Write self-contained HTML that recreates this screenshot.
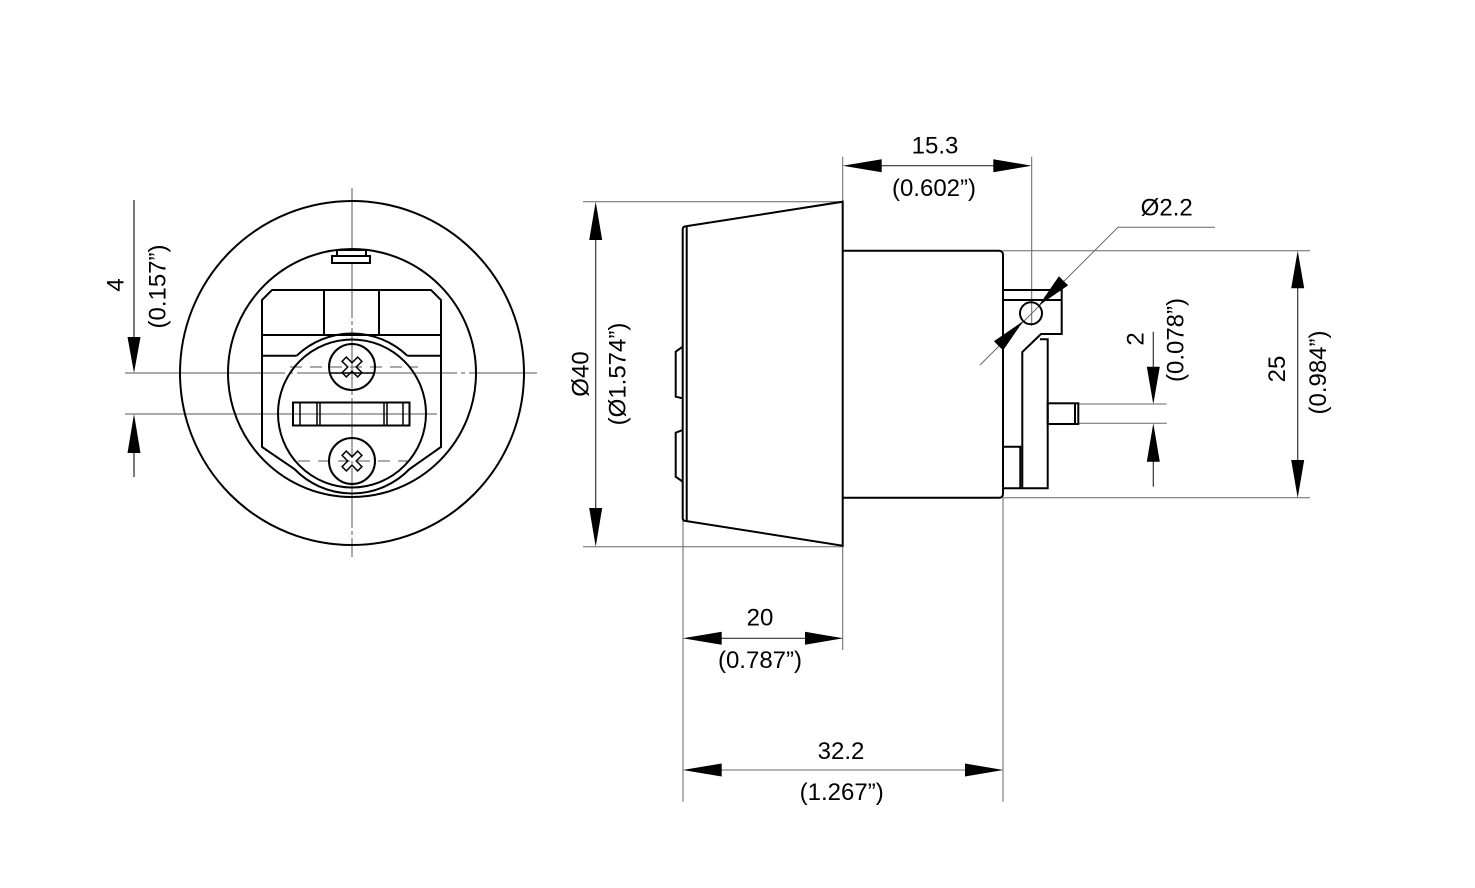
<!DOCTYPE html>
<html><head><meta charset="utf-8"><style>
html,body{margin:0;padding:0;background:#fff;}
svg{display:block;}
text{font-family:"Liberation Sans",Arial,sans-serif;font-size:24px;fill:#000;}
</style></head><body>
<svg width="1475" height="888" viewBox="0 0 1475 888" xmlns="http://www.w3.org/2000/svg">
<rect width="1475" height="888" fill="#fff"/>

<!-- ============ LEFT (FRONT) VIEW ============ -->
<!-- center lines -->
<g stroke="#555" stroke-width="1" fill="none">
  <line x1="352" y1="188" x2="352" y2="557" stroke-dasharray="60 3 4 3"/>
  <line x1="125" y1="373" x2="537" y2="373" stroke-dasharray="160 4 4 4"/>
  <line x1="125" y1="414" x2="437" y2="414"/>
  <line x1="290" y1="367" x2="418" y2="367" stroke-dasharray="12 8"/>
  <line x1="298" y1="461" x2="408" y2="461" stroke-dasharray="12 8"/>
</g>
<g stroke="#000" stroke-width="2" fill="none">
  <circle cx="352" cy="373" r="172"/>
  <circle cx="352" cy="373" r="124"/>
  <!-- tab -->
  <rect x="337" y="250" width="29" height="6" fill="#fff"/>
  <rect x="332" y="256" width="38" height="7" fill="#fff"/>
  <!-- body outline -->
  <path d="M262 300 L272 290 L431 290 L441 300 L441 447 L409.6 469 A80 80 0 0 1 294.4 469 L262 447 Z"/>
  <line x1="262" y1="335" x2="441" y2="335"/>
  <line x1="324" y1="290" x2="324" y2="335"/>
  <line x1="379" y1="290" x2="379" y2="335"/>
  <line x1="262" y1="355.7" x2="296.7" y2="355.7"/>
  <line x1="407.3" y1="355.7" x2="441" y2="355.7"/>
  <path d="M296.7 355.7 A80 80 0 0 1 407.3 355.7"/>
  <!-- inner plug circle -->
  <circle cx="352" cy="413.5" r="74"/>
  <!-- screws -->
  <circle cx="352" cy="367" r="23"/>
  <circle cx="352" cy="461" r="23"/>
  <!-- slot -->
  <rect x="293" y="402.5" width="116.5" height="23"/>
</g>
<g stroke="#000" stroke-width="1.5" fill="none">
  <line x1="300" y1="402.5" x2="300" y2="425.5"/>
  <line x1="317" y1="402.5" x2="317" y2="425.5"/>
  <line x1="320" y1="402.5" x2="320" y2="425.5"/>
  <line x1="384" y1="402.5" x2="384" y2="425.5"/>
  <line x1="387" y1="402.5" x2="387" y2="425.5"/>
  <line x1="403" y1="402.5" x2="403" y2="425.5"/>
  <!-- cross recesses -->
  <path transform="translate(352,367) rotate(45)" d="M-3 -11 L3 -11 L3 -3 L11 -3 L11 3 L3 3 L3 11 L-3 11 L-3 3 L-11 3 L-11 -3 L-3 -3 Z"/>
  <path transform="translate(352,461) rotate(45)" d="M-3 -11 L3 -11 L3 -3 L11 -3 L11 3 L3 3 L3 11 L-3 11 L-3 3 L-11 3 L-11 -3 L-3 -3 Z"/>
</g>
<line x1="329" y1="373" x2="375" y2="373" stroke="#000" stroke-width="1.5"/>

<!-- dim 4 -->
<g stroke="#222" stroke-width="1.2">
  <line x1="134" y1="200" x2="134" y2="340"/>
  <line x1="134" y1="450" x2="134" y2="477"/>
</g>
<polygon points="134,373 127.5,337 140.5,337" fill="#000"/>
<polygon points="134,414 127.5,453 140.5,453" fill="#000"/>
<text transform="translate(123.3,285) rotate(-90)" text-anchor="middle">4</text>
<text transform="translate(165.5,286.5) rotate(-90)" text-anchor="middle">(0.157”)</text>

<!-- ============ SIDE VIEW ============ -->
<!-- extension lines -->
<g stroke="#666" stroke-width="1" fill="none">
  <line x1="583" y1="201.7" x2="842.7" y2="201.7"/>
  <line x1="583" y1="546.7" x2="842.7" y2="546.7"/>
  <line x1="842.7" y1="156.7" x2="842.7" y2="201.7"/>
  <line x1="842.7" y1="546" x2="842.7" y2="650"/>
  <line x1="1031.7" y1="156.7" x2="1031.7" y2="326"/>
  <line x1="683" y1="521" x2="683" y2="801.7"/>
  <line x1="1003" y1="498" x2="1003" y2="801.7"/>
  <line x1="1003" y1="250.7" x2="1310" y2="250.7"/>
  <line x1="1003" y1="497.7" x2="1310" y2="497.7"/>
  <line x1="1078.3" y1="404" x2="1166.7" y2="404"/>
  <line x1="1078.3" y1="423.3" x2="1166.7" y2="423.3"/>
  <!-- leader -->
  <polyline points="980,365 1118,227.3 1215,227.3"/>
</g>

<g stroke="#000" stroke-width="2" fill="none">
  <!-- cone -->
  <path d="M682.7 229.5 Q682.7 226.5 686 226.3 L842.7 201.7 L842.7 545.7 L686 521 Q682.7 521 682.7 518 Z"/>
  <line x1="686.7" y1="226.5" x2="686.7" y2="521"/>
  <polyline points="682.7,346.7 675.7,351.7 675.7,396.7 682.7,398.3"/>
  <polyline points="682.7,430 675.7,432.7 675.7,476.7 682.7,481.7"/>
  <!-- cylinder -->
  <path d="M842.7 250.7 L999 250.7 Q1003 250.7 1003 254.7 L1003 493.7 Q1003 497.7 999 497.7 L842.7 497.7"/>
  <!-- connector -->
  <path d="M1003 290 L1061.7 290 L1061.7 334 L1041 334 L1022.3 352 L1022.3 488.3"/>
  <line x1="1003" y1="300" x2="1061.7" y2="300"/>
  <path d="M1040 339.3 L1047.7 339.3 L1047.7 488.3 L1003 488.3"/>
  <path d="M1003 446.7 L1020.3 446.7 L1020.3 488.3"/>
  <rect x="1047.7" y="403.3" width="30.6" height="20.7"/>
  <line x1="1075" y1="403.3" x2="1075" y2="424"/>
  <circle cx="1031" cy="313.3" r="11"/>
</g>
<!-- Ø2.2 arrows -->
<polygon points="1038.8,305.5 1068.1,285.4 1058.9,276.2" fill="#000"/>
<polygon points="1023.2,321.1 1003.1,350.4 993.9,341.2" fill="#000"/>
<text x="1166.7" y="215.7" text-anchor="middle">Ø2.2</text>

<!-- dim lines -->
<g stroke="#333" stroke-width="1.2" fill="none">
  <line x1="595.7" y1="235" x2="595.7" y2="512"/>
  <line x1="878" y1="165.7" x2="996" y2="165.7"/>
  <line x1="718" y1="638.3" x2="808" y2="638.3"/>
  <line x1="718" y1="770" x2="968" y2="770" stroke="#888"/>
  <line x1="1297.7" y1="285" x2="1297.7" y2="464"/>
  <line x1="1153.3" y1="331.7" x2="1153.3" y2="370"/>
  <line x1="1153.3" y1="458" x2="1153.3" y2="486.7"/>
</g>
<g fill="#000">
  <!-- Ø40 -->
  <polygon points="595.7,201.7 589.2,240 602.2,240"/>
  <polygon points="595.7,546.7 589.2,508 602.2,508"/>
  <!-- 15.3 -->
  <polygon points="842.7,165.7 881.7,159.2 881.7,172.2"/>
  <polygon points="1031.7,165.7 993.3,159.2 993.3,172.2"/>
  <!-- 20 -->
  <polygon points="682.7,638.3 721.7,631.8 721.7,644.8"/>
  <polygon points="843.3,638.3 805,631.8 805,644.8"/>
  <!-- 32.2 -->
  <polygon points="682.7,770 721.7,763.5 721.7,776.5"/>
  <polygon points="1003.3,770 965,763.5 965,776.5"/>
  <!-- 25 -->
  <polygon points="1297.7,250.7 1291.2,288.3 1304.2,288.3"/>
  <polygon points="1297.7,498 1291.2,460 1304.2,460"/>
  <!-- 2 -->
  <polygon points="1153.3,404.3 1146.8,366.7 1159.8,366.7"/>
  <polygon points="1153.3,423.3 1146.8,461.7 1159.8,461.7"/>
</g>

<!-- texts -->
<text x="935" y="153.5" text-anchor="middle">15.3</text>
<text x="934" y="196" text-anchor="middle">(0.602”)</text>
<text x="760" y="625.7" text-anchor="middle">20</text>
<text x="760" y="668" text-anchor="middle">(0.787”)</text>
<text x="841" y="759" text-anchor="middle">32.2</text>
<text x="841.7" y="800" text-anchor="middle">(1.267”)</text>
<text transform="translate(588.3,374) rotate(-90)" text-anchor="middle">Ø40</text>
<text transform="translate(625.5,374) rotate(-90)" text-anchor="middle">(Ø1.574”)</text>
<text transform="translate(1143.3,339) rotate(-90)" text-anchor="middle">2</text>
<text transform="translate(1183.5,340) rotate(-90)" text-anchor="middle">(0.078”)</text>
<text transform="translate(1285,369) rotate(-90)" text-anchor="middle">25</text>
<text transform="translate(1326,372.5) rotate(-90)" text-anchor="middle">(0.984”)</text>
</svg>
</body></html>
